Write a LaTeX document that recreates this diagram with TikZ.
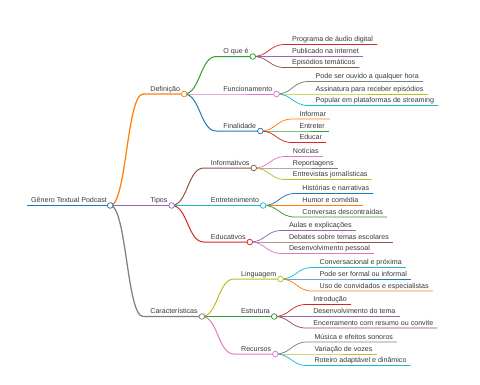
\documentclass[tikz,border=0pt]{standalone}
\usepackage{fontspec}
\setmainfont{Liberation Sans}
\usetikzlibrary{calc}
\definecolor{mblue}{HTML}{1F77B4}
\definecolor{morange}{HTML}{FF7F0E}
\definecolor{mgreen}{HTML}{2CA02C}
\definecolor{mred}{HTML}{D62728}
\definecolor{mpurple}{HTML}{9467BD}
\definecolor{mbrown}{HTML}{8C564B}
\definecolor{mpink}{HTML}{E377C2}
\definecolor{mgray}{HTML}{7F7F7F}
\definecolor{molive}{HTML}{BCBD22}
\definecolor{mcyan}{HTML}{17BECF}
\tikzset{
  lbl/.style={anchor=base west,inner sep=0pt,text=black!78,font=\fontsize{7.1}{8}\selectfont},
  dot/.style={circle,draw=#1,fill=white,line width=0.75pt,inner sep=0pt,minimum size=5.6pt},
  link/.style={to path={.. controls ($(\tikztostart)!.5!(\tikztostart -| \tikztotarget)$)
    and ($(\tikztotarget)!.5!(\tikztotarget -| \tikztostart)$) .. (\tikztotarget)}}
}
\begin{document}
\begin{tikzpicture}[x=1pt,y=-1pt]
  \useasboundingbox (0,0) rectangle (480,384);

  % root
  \coordinate (sroot) at (27,205.5);
  \node[lbl] (root) at (31,202.5) {Gênero Textual Podcast};
  \coordinate (eroot) at ([shift={(3,3)}]root.base east);
  \draw[mblue,line width=1.6pt] (sroot) -- (eroot);

  % first level
  \foreach \n/\y/\c/\t in {def/94/morange/Definição,tip/205.5/mpurple/Tipos,
    car/316.5/mgray/Características}
  {
    \path (eroot |- 0,\y) ++(33,0) coordinate (s\n);
    \node[lbl] (\n) at ([shift={(7,-3)}]s\n) {\t};
    \coordinate (e\n) at ([shift={(4,3)}]\n.base east);
    \draw[\c,line width=1.25pt] (eroot) to[link] (s\n) -- (e\n);
  }

  % second level
  \foreach \p/\n/\y/\c/\t in {def/oque/56.5/mgreen/O que é,def/fun/94/mpink/Funcionamento,
    def/fin/131/mblue/Finalidade,tip/inf/168/mbrown/Informativos,
    tip/ent/205.5/mcyan/Entretenimento,tip/edu/242/mred/Educativos,
    car/lin/279/molive/Linguagem,car/est/316.5/mgreen/Estrutura,car/rec/354/mpink/Recursos}
  {
    \path (e\p |- 0,\y) ++(32,0) coordinate (s\n);
    \node[lbl] (\n) at ([shift={(7,-3)}]s\n) {\t};
    \coordinate (e\n) at ([shift={(4,3)}]\n.base east);
    \draw[\c,line width=1pt] (e\p) to[link] (s\n) -- (e\n);
  }

  % leaves
  \foreach \p/\y/\c/\t [count=\i] in {
    oque/44.5/mred/Programa de áudio digital,oque/56.5/mpurple/Publicado na internet,
    oque/67.5/mbrown/Episódios temáticos,
    fun/81.5/mgray/Pode ser ouvido a qualquer hora,fun/94/molive/Assinatura para receber episódios,
    fun/105.5/mcyan/Popular em plataformas de streaming,
    fin/119/morange/Informar,fin/131/mgreen/Entreter,fin/142.5/mred/Educar,
    inf/156.5/mpink/Notícias,inf/168/mgray/Reportagens,inf/179.5/molive/Entrevistas jornalísticas,
    ent/193.5/mblue/Histórias e narrativas,ent/205.5/morange/Humor e comédia,
    ent/217/mgreen/Conversas descontraídas,
    edu/230.5/mpurple/Aulas e explicações,edu/242/mbrown/Debates sobre temas escolares,
    edu/253.5/mpink/Desenvolvimento pessoal,
    lin/267.5/mcyan/Conversacional e próxima,lin/279/mblue/Pode ser formal ou informal,
    lin/291/morange/Uso de convidados e especialistas,
    est/304.5/mred/Introdução,est/316.5/mpurple/Desenvolvimento do tema,
    est/328/mbrown/Encerramento com resumo ou convite,
    rec/342/mgray/Música e efeitos sonoros,rec/354/molive/Variação de vozes,
    rec/365.5/mcyan/Roteiro adaptável e dinâmico}
  {
    \path (e\p |- 0,\y) ++(32,0) coordinate (sl\i);
    \node[lbl] (l\i) at ([shift={(7,-3)}]sl\i) {\t};
    \coordinate (el\i) at ([shift={(4,3)}]l\i.base east);
    \draw[\c,line width=0.75pt] (e\p) to[link] (sl\i) -- (el\i);
  }

  % circles on top
  \foreach \n/\c in {root/mblue,def/morange,tip/mpurple,car/mgray,oque/mgreen,fun/mpink,
    fin/mblue,inf/mbrown,ent/mcyan,edu/mred,lin/molive,est/mgreen,rec/mpink}
  \node[dot=\c] (d\n) at (e\n) {};
\end{tikzpicture}
\end{document}
